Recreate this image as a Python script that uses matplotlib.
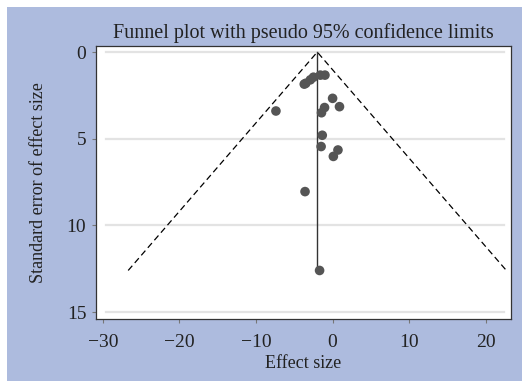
import matplotlib.pyplot as plt
from matplotlib.patches import Rectangle

# study estimates and their standard errors
effect = [-7.4, -3.7, -3.5, -2.9, -2.5, -1.6, -1.0, 0.0, 0.9, -1.05,
          -1.45, -1.35, -1.5, 0.7, 0.1, -3.6, -1.7]
se = [3.4, 1.85, 1.8, 1.6, 1.45, 1.33, 1.33, 2.67, 3.15, 3.2,
      3.5, 4.8, 5.45, 5.65, 6.02, 8.05, 12.6]
pooled = -2.0
se_max = 12.6
xticks = [-30, -20, -10, 0, 10, 20]
yticks = [0, 5, 10, 15]

plt.rcParams['font.family'] = ['Liberation Serif', 'DejaVu Serif']

fig = plt.figure(figsize=(5.28, 3.85), dpi=100)
fig.patches.append(Rectangle((7 / 528, 4 / 385), 515 / 528, 374 / 385,
                             transform=fig.transFigure, facecolor='#adbbde',
                             edgecolor='none', zorder=-10))
ax = fig.add_axes([96 / 528, 1 - 319 / 385, 415 / 528, 273 / 385])
ax.set_facecolor('white')

for y in yticks:
    ax.axhline(y, xmin=0.024, xmax=0.983, color='#e3e3e3', lw=1.6, zorder=1)

# pseudo 95% limits and pooled estimate
ax.plot([pooled - 1.96 * se_max, pooled, pooled + 1.96 * se_max],
        [se_max, 0, se_max], color='black', lw=0.9, ls=(0, (5, 3)), zorder=2)
ax.plot([pooled, pooled], [0, se_max], color='#333333', lw=1.0, zorder=2)
ax.scatter(effect, se, s=48, color='#555555', edgecolors='none', zorder=3)

ax.set_xlim(-30.9, 23.3)
ax.set_ylim(15.4, -0.35)
ax.set_xticks(xticks)
ax.set_yticks(yticks)
ax.set_xticklabels(['\u221230', '\u221220', '\u221210', '0', '10', '20'])
ax.tick_params(axis='both', length=3, width=0.8, color='#777777',
               labelsize=14, labelcolor='#222222')
ax.tick_params(axis='x', pad=8)
ax.tick_params(axis='y', pad=4)
for sp in ax.spines.values():
    sp.set_color('#333333')
    sp.set_linewidth(0.9)

ax.set_xlabel('Effect size', fontsize=13, color='#222222', labelpad=3)
ax.set_ylabel('Standard error of effect size', fontsize=13, color='#222222',
              labelpad=14)
ax.set_title('Funnel plot with pseudo 95% confidence limits', fontsize=14.5,
             color='#222222', pad=6)

fig.savefig('out.png', dpi=100)
